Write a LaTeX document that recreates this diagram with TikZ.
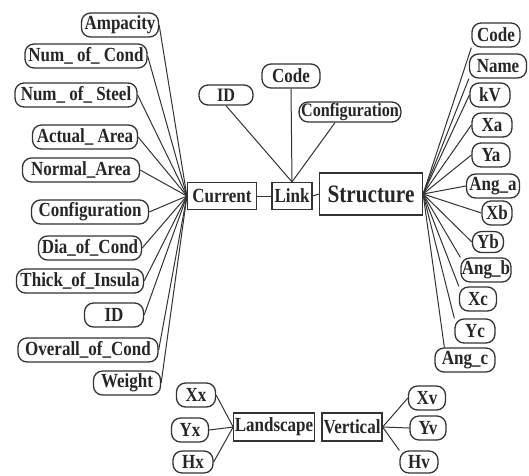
\documentclass[tikz,border=0pt]{standalone}
\usepackage{fontspec}
\setmainfont{Liberation Serif}[FakeStretch=0.85]
\usetikzlibrary{positioning}

\begin{document}
\begin{tikzpicture}[x=1pt, y=-1pt,
    attr/.style={rectangle, rounded corners=9pt, draw=black!80, line width=1.3pt, text=black!85,
        font=\fontsize{20}{20}\selectfont\bfseries, inner xsep=2pt, inner ysep=0pt, minimum height=24pt},
    smallattr/.style={attr, font=\fontsize{19}{19}\selectfont\bfseries, minimum height=20pt},
    entity/.style={rectangle, draw=black!80, line width=1.2pt, text=black!85,
        font=\fontsize{20}{20}\selectfont\bfseries, inner sep=1pt, minimum height=27pt},
    conn/.style={draw=black!80, line width=1pt}
]
\useasboundingbox (0,0) rectangle (529,475);

% Entities
\node[entity, minimum width=69pt] (current) at (222,196) {Current};
\node[entity, minimum width=40pt] (link) at (292,196) {Link};
\node[entity, minimum width=103pt, minimum height=42pt, font=\fontsize{25}{25}\selectfont\bfseries] (structure) at (371,194) {Structure};
\node[entity, minimum width=79pt, minimum height=28pt] (landscape) at (274,427) {Landscape};
\node[entity, minimum width=60pt, minimum height=28pt] (vertical) at (352,427) {Vertical};

% Current attributes
\node[attr, minimum width=77pt] (ampacity) at (120,25) {Ampacity};
\node[attr, minimum width=122pt] (numcond) at (86,56) {Num\_ of\_ Cond};
\node[attr, minimum width=122pt] (numsteel) at (76,95) {Num\_ of\_ Steel};
\node[attr, minimum width=105pt] (actarea) at (85,137) {Actual\_ Area};
\node[attr, minimum width=117pt] (normarea) at (81,170) {Normal\_Area};
\node[attr, minimum width=117pt] (config) at (90,212) {Configuration};
\node[attr, minimum width=103pt] (diacond) at (90,248) {Dia\_of\_Cond};
\node[attr, minimum width=127pt] (thick) at (80,281) {Thick\_of\_Insula};
\node[attr, minimum width=59pt] (curid) at (114,315) {ID};
\node[attr, minimum width=140pt] (overall) at (88,350) {Overall\_of\_Cond};
\node[attr, minimum width=67pt] (weight) at (127,383) {Weight};

\foreach \a in {ampacity,numcond,numsteel,actarea,normarea,config,diacond,thick,curid,overall,weight}
    \draw[conn] (\a.east) -- (current.west);

% Link attributes
\node[smallattr, minimum width=54pt] (linkid) at (226,95) {ID};
\node[attr, minimum width=58pt] (linkcode) at (291,76) {Code};
\node[smallattr, minimum width=94pt] (linkconf) at (350,112) {Configuration};

\draw[conn] (linkid.south) -- (link.north);
\draw[conn] (linkcode.south) -- (link.north);
\draw[conn] ([xshift=-15pt]linkconf.south) -- (link.north);

\draw[conn] (current.east) -- (link.west);
\draw[conn] (link.east) -- (structure.west);

% Structure attributes
\node[attr, minimum width=48pt] (scode) at (496,35) {Code};
\node[attr, minimum width=57pt] (sname) at (498,66) {Name};
\node[attr, minimum width=40pt] (skv) at (490,95) {kV};
\node[attr, minimum width=40pt] (sxa) at (492,125) {Xa};
\node[attr, minimum width=38pt] (sya) at (491,155) {Ya};
\node[attr, minimum width=53pt] (sanga) at (493,186) {Ang\_a};
\node[attr, minimum width=30pt, inner xsep=0pt] (sxb) at (497,213) {Xb};
\node[attr, minimum width=31pt, inner xsep=0pt, minimum height=21pt] (syb) at (488,242) {Yb};
\node[attr, minimum width=50pt, inner xsep=0pt] (sangb) at (486,270) {Ang\_b};
\node[attr, minimum width=37pt] (sxc) at (478,299) {Xc};
\node[attr, minimum width=40pt] (syc) at (475,331) {Yc};
\node[attr, minimum width=60pt] (sangc) at (465,360) {Ang\_c};

\draw[conn] (structure.east) -- (scode.south west);
\draw[conn] (structure.east) -- (sname.south west);
\foreach \a in {skv,sxa,sya,sanga,sxb,syb}
    \draw[conn] (structure.east) -- (\a.west);
\draw[conn] (structure.east) -- (sangb.north west);
\draw[conn] (structure.east) -- (sxc.north west);
\draw[conn] (structure.east) -- (syc.north west);
\draw[conn] (structure.east) -- ([xshift=10pt]sangc.north west);

% Landscape attributes
\node[attr, minimum width=39pt] (xx) at (196,395) {Xx};
\node[attr, minimum width=37pt] (yx) at (190,430) {Yx};
\node[attr, minimum width=40pt, minimum height=22pt] (hx) at (193,462) {Hx};

\foreach \a in {xx,yx,hx}
    \draw[conn] (\a.east) -- (landscape.west);

% Vertical attributes
\node[attr, minimum width=37pt] (xv) at (427,398) {Xv};
\node[attr, minimum width=36pt] (yv) at (428,428) {Yv};
\node[attr, minimum width=38pt, minimum height=22pt] (hv) at (419,462) {Hv};

\draw[conn] (vertical.east) -- (xv.west);
\draw[conn] (vertical.east) -- (yv.west);
\draw[conn] (vertical.east) -- (hv.north west);

\end{tikzpicture}
\end{document}
